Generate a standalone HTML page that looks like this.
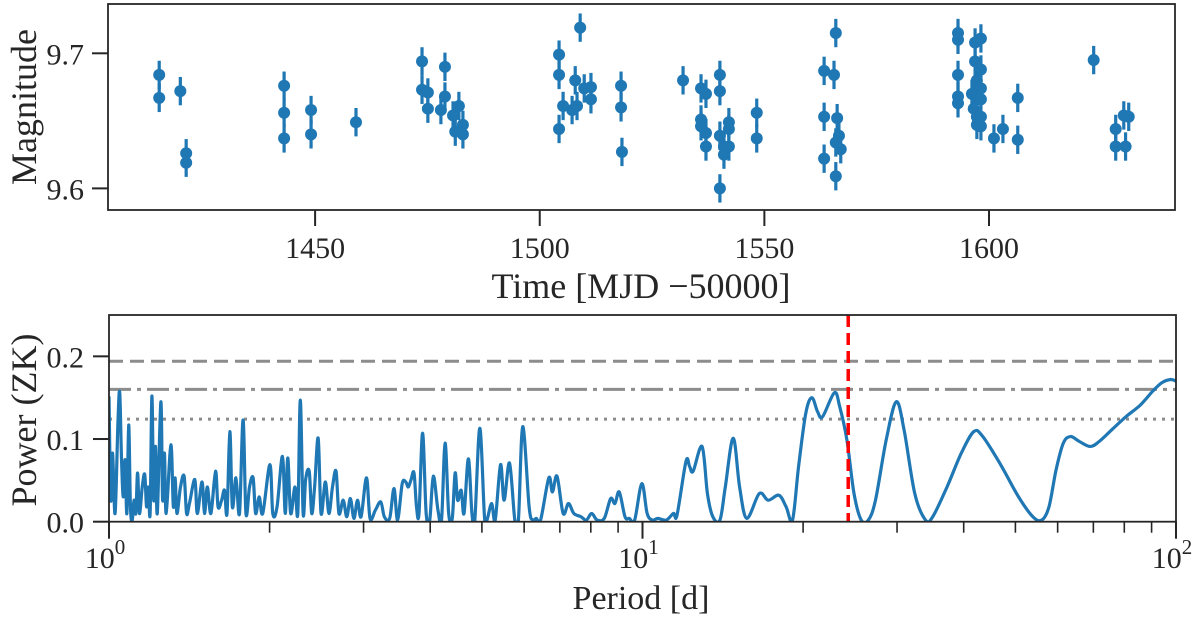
<!DOCTYPE html>
<html><head><meta charset="utf-8"><style>
html,body{margin:0;padding:0;background:#fff;}
svg{display:block;font-family:"Liberation Serif",serif;}
</style></head><body>
<svg id="fig" width="1200" height="621" viewBox="0 0 1200 621">
<defs>
<clipPath id="clipTop"><rect x="108" y="4" width="1067" height="206"/></clipPath>
<clipPath id="clipBot"><rect x="109" y="315" width="1067" height="207"/></clipPath>
</defs>
<g id="topPanel"></g>
<g id="botPanel"></g>
</svg>
<script>
// ---- light curve data ----
const times = [1415.3,1415.3,1420.0,1421.3,1421.3,1443.1,1443.1,1443.1,1449.1,1449.1,1459.1,1473.8,1473.8,1475.1,1475.1,1478.9,1478.9,1478.0,1480.7,1482.0,1481.2,1482.9,1482.9,1504.3,1504.3,1504.3,1509.0,1507.9,1505.2,1507.2,1508.3,1509.9,1511.4,1511.4,1518.1,1518.1,1518.3,
1531.9,1535.9,1537.0,1540.1,1540.1,1535.9,1535.9,1537.0,1537.0,1540.1,1541.0,1541.0,1542.1,1542.1,1542.1,1540.1,1548.3,1548.3,1563.3,1565.5,1563.3,1566.2,1565.9,1566.6,1565.9,1567.0,1563.3,1565.9,
1593.1,1593.1,1593.1,1593.1,1593.1,1596.9,1598.2,1596.9,1598.2,1597.3,1597.3,1598.2,1596.2,1597.3,1598.2,1596.6,1597.3,1598.2,1597.3,1598.2,1601.1,1603.1,1606.4,1606.4,1623.3,1628.2,1628.2,1630.0,1631.1,1630.4];
const mags = [9.684,9.667,9.672,9.626,9.619,9.676,9.656,9.637,9.658,9.640,9.649,9.694,9.673,9.671,9.659,9.690,9.668,9.658,9.654,9.661,9.642,9.647,9.640,9.699,9.684,9.644,9.719,9.680,9.661,9.658,9.661,9.674,9.675,9.666,9.676,9.660,9.627,
9.680,9.674,9.670,9.684,9.672,9.651,9.646,9.641,9.631,9.639,9.631,9.625,9.649,9.644,9.631,9.600,9.656,9.637,9.687,9.684,9.653,9.652,9.715,9.639,9.634,9.629,9.622,9.609,
9.715,9.710,9.684,9.668,9.663,9.708,9.711,9.694,9.688,9.680,9.675,9.674,9.670,9.666,9.666,9.659,9.653,9.653,9.647,9.646,9.637,9.644,9.667,9.636,9.695,9.644,9.631,9.654,9.653,9.631];
const magErr = 0.0105;
const topXTicks = [1450,1500,1550,1600];
const topYTicks = [9.6,9.7];

// ---- periodogram data ----
const logPeriod = [0.000,0.0034,0.0067,0.0114,0.0168,0.0201,0.0235,0.0268,0.0302,0.0335,0.0369,0.0402,0.0436,0.0469,0.0503,0.0536,0.0570,0.0623,0.0670,0.0704,0.0737,0.0771,0.0804,0.0838,0.0871,0.0905,0.0972,0.1005,0.1039,0.1072,0.1160,0.1206,0.1240,0.1273,0.1340,0.1408,0.1454,0.1508,0.1609,0.1655,0.1743,0.1790,0.1843,0.1910,0.1997,0.2044,0.2111,0.2165,0.2212,0.2265,0.2312,0.2379,0.2446,0.2513,0.2567,0.2634,0.2701,0.2748,0.2815,0.2882,0.3016,0.3070,0.3150,0.3251,0.3304,0.3351,0.3405,0.3485,0.3539,0.3586,0.3639,0.3686,0.3753,0.3800,0.3854,0.3921,0.3975,0.4055,0.4122,0.4189,0.4256,0.4310,0.4390,0.4457,0.4524,0.4591,0.4658,0.4725,0.4826,0.4893,0.4993,0.5094,0.5161,0.5261,0.5342,0.5409,0.5496,0.5563,0.5610,0.5663,0.5717,0.5764,0.5811,0.5878,0.5945,0.6012,0.6079,0.6166,0.6233,0.6300,0.6367,0.6434,0.6488,0.6535,0.6602,0.6655,0.6736,0.6803,0.6857,0.6950,0.7038,0.7084,0.7172,0.7239,0.7339,0.7406,0.7507,0.7607,0.7674,0.7755,0.7875,0.7942,0.8009,0.8090,0.8244,0.8311,0.8398,0.8512,0.8612,0.8713,0.8847,0.8948,0.9048,0.9149,0.9283,0.9403,0.9484,0.9564,0.9672,0.9752,0.9853,0.9987,1.0087,1.0188,1.0288,1.0446,1.0580,1.0647,1.0815,1.0882,1.0949,1.1117,1.1217,1.1318,1.1452,1.1552,1.1700,1.1820,1.1954,1.2189,1.2356,1.2557,1.2692,1.2812,1.2926,1.3060,1.3174,1.3282,1.3375,1.3597,1.3697,1.3831,1.3965,1.4099,1.4233,1.4367,1.4568,1.4756,1.4903,1.5104,1.5305,1.5440,1.5708,1.5976,1.6210,1.6378,1.6713,1.7049,1.7317,1.7485,1.7619,1.7753,1.7888,1.8022,1.8190,1.8391,1.8559,1.8793,1.9062,1.9330,1.9565,1.9732,1.9900,2.0000];
const power = [0.1515,0.026,0.083,0.010,0.121,0.156,0.075,0.030,0.075,0.010,0.117,0.018,0.002,0.026,0.010,0.059,0.010,0.042,0.057,0.018,0.042,0.010,0.152,0.026,0.091,0.010,0.145,0.026,0.083,0.010,0.093,0.018,0.053,0.010,0.042,0.055,0.010,0.022,0.051,0.010,0.048,0.010,0.042,0.010,0.061,0.018,0.026,0.038,0.010,0.109,0.018,0.053,0.010,0.123,0.010,0.042,0.053,0.010,0.030,0.010,0.069,0.010,0.018,0.079,0.010,0.077,0.010,0.042,0.010,0.147,0.010,0.051,0.061,0.010,0.042,0.101,0.010,0.048,0.010,0.042,0.061,0.010,0.026,0.006,0.028,0.004,0.026,0.006,0.053,0.004,0.014,0.024,0.006,0.004,0.040,0.002,0.046,0.048,0.042,0.051,0.059,0.018,0.010,0.107,0.010,0.002,0.055,0.014,0.002,0.095,0.010,0.004,0.059,0.026,0.038,0.010,0.076,0.010,0.002,0.113,0.006,0.002,0.022,0.002,0.069,0.026,0.071,0.002,0.002,0.115,0.018,0.002,0.004,0.002,0.053,0.036,0.055,0.010,0.022,0.010,0.006,0.002,0.010,0.002,0.004,0.028,0.022,0.036,0.006,0.004,0.002,0.046,0.010,0.002,0.004,0.002,0.010,0.008,0.073,0.067,0.061,0.091,0.034,0.006,0.002,0.042,0.101,0.042,0.004,0.034,0.026,0.032,0.018,0.002,0.067,0.131,0.150,0.133,0.127,0.156,0.139,0.099,0.034,0.002,0.002,0.026,0.099,0.145,0.111,0.034,0.002,0.006,0.042,0.083,0.109,0.103,0.069,0.030,0.006,0.002,0.018,0.063,0.095,0.103,0.097,0.091,0.097,0.111,0.127,0.141,0.158,0.168,0.172,0.170];
const fapLevels = [0.194,0.160,0.124];
const bestPeriod = 24.3;
const botYTicks = [0.0,0.1,0.2];
const botYLabels = ["0.0","0.1","0.2"];
const botXDecades = [0,1,2];

const NS="http://www.w3.org/2000/svg";
function mk(tag, attrs, parent){const e=document.createElementNS(NS,tag);for(const k in attrs)e.setAttribute(k,attrs[k]);parent.appendChild(e);return e;}
const INK='#262626';

// ---- top axes ----
const T={l:108,r:1175,t:4,b:210,x0:1403.9,x1:1641.4,y0:9.584,y1:9.7365};
const tx=v=>T.l+(v-T.x0)/(T.x1-T.x0)*(T.r-T.l);
const ty=v=>T.b-(v-T.y0)/(T.y1-T.y0)*(T.b-T.t);
const topG=document.getElementById('topPanel');
const pts=mk('g',{'clip-path':'url(#clipTop)'},topG);


const nPts=Math.min(times.length,mags.length);
for(let i=0;i<nPts;i++){
  const x=tx(times[i]);
  const eb=mk('line',{x1:x,x2:x,y1:ty(mags[i]-magErr),y2:ty(mags[i]+magErr),stroke:'#1f77b4','stroke-width':3.2},pts);
  
  
}
for(let i=0;i<nPts;i++){
  const c=mk('circle',{cx:tx(times[i]),cy:ty(mags[i]),r:6,fill:'#1f77b4'},pts);
  
  
}
const tf=mk('rect',{x:T.l,y:T.t,width:T.r-T.l,height:T.b-T.t,fill:'none',stroke:INK,'stroke-width':1.8},topG);


topXTicks.forEach(v=>{const x=tx(v);mk('line',{x1:x,x2:x,y1:T.b,y2:T.b+16,stroke:INK,'stroke-width':2},topG);
  const t=mk('text',{x:x,y:258,'text-anchor':'middle','font-size':30,fill:INK},topG);t.textContent=v;
  
  });
topYTicks.forEach(v=>{const y=ty(v);mk('line',{x1:T.l-16,x2:T.l,y1:y,y2:y,stroke:INK,'stroke-width':2},topG);
  const t=mk('text',{x:84,y:y+11,'text-anchor':'end','font-size':30,fill:INK},topG);t.textContent=v.toFixed(1);
  
  });
let lab=mk('text',{x:641,y:298,'text-anchor':'middle','font-size':36,fill:INK},topG);lab.textContent='Time [MJD \u221250000]';


lab=mk('text',{x:0,y:0,'text-anchor':'middle','font-size':36,fill:INK,transform:'translate(36,107) rotate(-90)'},topG);lab.textContent='Magnitude';



// ---- bottom axes ----
const B={l:109,r:1176,t:315,b:521.7,y0:0,y1:0.25};
const bx=lp=>B.l+(lp-0)/2*(B.r-B.l);
const by=v=>B.b-(v-B.y0)/(B.y1-B.y0)*(B.b-B.t);
const botG=document.getElementById('botPanel');
const styles=[{d:'14,7',n:'fap-dashed'},{d:'22,6,4,6',n:'fap-dashdot'},{d:'3,6',n:'fap-dotted'}];
fapLevels.forEach((v,i)=>{const l=mk('line',{x1:B.l,x2:B.r,y1:by(v),y2:by(v),stroke:'#8c8c8c','stroke-width':3,'stroke-dasharray':styles[i].d},botG);
  
  });
// curve
const nC=Math.min(logPeriod.length,power.length);
const P=[];
for(let i=0;i<nC;i++)P.push([bx(logPeriod[i]),by(power[i])]);
let d='M'+P[0][0]+','+P[0][1];
for(let i=0;i<P.length-1;i++){
  const p0=P[Math.max(0,i-1)],p1=P[i],p2=P[i+1],p3=P[Math.min(P.length-1,i+2)];
  const k=1/6;
  d+=' C'+(p1[0]+(p2[0]-p0[0])*k)+','+(p1[1]+(p2[1]-p0[1])*k)+' '+(p2[0]-(p3[0]-p1[0])*k)+','+(p2[1]-(p3[1]-p1[1])*k)+' '+p2[0]+','+p2[1];
}
const curve=mk('path',{d:d,fill:'none',stroke:'#1f77b4','stroke-width':3.2,'stroke-linejoin':'round','clip-path':'url(#clipBot)'},botG);


const rx=bx(Math.log10(bestPeriod));
const red=mk('line',{x1:rx,x2:rx,y1:B.t,y2:B.b,stroke:'#ff0000','stroke-width':3.5,'stroke-dasharray':'12,6'},botG);


const bf=mk('rect',{x:B.l,y:B.t,width:B.r-B.l,height:B.b-B.t,fill:'none',stroke:INK,'stroke-width':1.8},botG);


botXDecades.forEach(dd=>{const x=bx(dd);mk('line',{x1:x,x2:x,y1:B.b,y2:B.b+17,stroke:INK,'stroke-width':2},botG);
  const t=mk('text',{x:x-4,y:568,'text-anchor':'middle','font-size':30,fill:INK},botG);t.textContent='10';
  const s=mk('tspan',{dy:-14,'font-size':21},t);s.textContent=String(dd);
  
  
  if(dd<2){for(let m=2;m<=9;m++){const xm=bx(dd+Math.log10(m));mk('line',{x1:xm,x2:xm,y1:B.b,y2:B.b+11,stroke:INK,'stroke-width':1.6},botG);}}});
botYTicks.forEach((v,i)=>{const y=by(v);mk('line',{x1:B.l-16,x2:B.l,y1:y,y2:y,stroke:INK,'stroke-width':2},botG);
  const t=mk('text',{x:84,y:y+11,'text-anchor':'end','font-size':30,fill:INK},botG);t.textContent=botYLabels[i];
  
  });
lab=mk('text',{x:641,y:609,'text-anchor':'middle','font-size':34,fill:INK},botG);lab.textContent='Period [d]';


lab=mk('text',{x:0,y:0,'text-anchor':'middle','font-size':36,fill:INK,transform:'translate(36,420) rotate(-90)'},botG);lab.textContent='Power (ZK)';


</script>
</body></html>
